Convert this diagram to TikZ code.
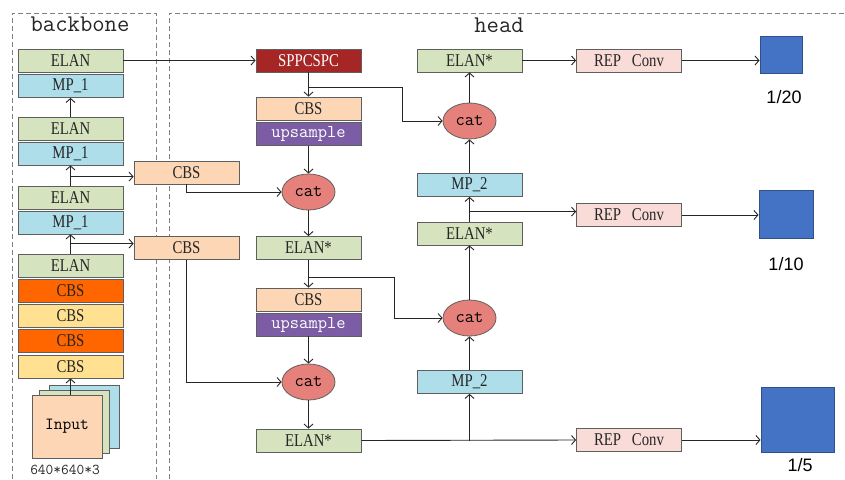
\documentclass[tikz,border=0pt]{standalone}
\usepackage{fontspec}
\usepackage{tikz}
\usetikzlibrary{shapes.geometric, arrows.meta}
\newfontfamily\boxfont[FakeStretch=0.82]{Liberation Serif}
\newfontfamily\zahlfont{Liberation Sans}
\definecolor{elangreen}{RGB}{214,227,191}
\definecolor{mpblue}{RGB}{173,222,234}
\definecolor{cbspeach}{RGB}{252,214,181}
\definecolor{cbsorange}{RGB}{255,102,0}
\definecolor{cbsyellow}{RGB}{255,225,145}
\definecolor{sppred}{RGB}{166,38,38}
\definecolor{upspurple}{RGB}{124,92,164}
\definecolor{catred}{RGB}{230,128,122}
\definecolor{reppink}{RGB}{249,219,216}
\definecolor{outblue}{RGB}{68,114,196}
\definecolor{rand}{RGB}{95,95,95}
\tikzset{
  blk/.style={draw=rand, line width=0.8pt, minimum width=105pt, minimum height=23pt, inner sep=0pt,
    text=black!85, font=\boxfont\fontsize{18}{18}\selectfont},
  elan/.style={blk, fill=elangreen},
  mp/.style={blk, fill=mpblue},
  cbs/.style={blk, fill=cbspeach},
  cbsor/.style={blk, fill=cbsorange},
  cbsye/.style={blk, fill=cbsyellow},
  spp/.style={blk, fill=sppred, text=white},
  ups/.style={blk, fill=upspurple, text=white, font=\ttfamily\fontsize{18}{18}\selectfont},
  rep/.style={blk, fill=reppink},
  catnode/.style={ellipse, draw=rand, line width=0.8pt, fill=catred, minimum width=53pt, minimum height=36pt,
    inner sep=0pt, font=\ttfamily\fontsize{18}{18}\selectfont},
  inbox/.style={draw=rand, line width=0.8pt, minimum width=70pt, minimum height=63pt, inner sep=0pt},
  ausgang/.style={draw=outblue!70!black, fill=outblue, inner sep=0pt},
  zahl/.style={font=\zahlfont\fontsize{18}{18}\selectfont},
  rahmen/.style={draw=gray, line width=0.8pt, dash pattern=on 5pt off 3pt},
  titel/.style={font=\ttfamily\fontsize{24}{24}\selectfont, text=black!85}
}
\begin{document}
\begin{tikzpicture}[x=1pt, y=-1pt, >={Straight Barb[length=4pt,width=9pt]}, line width=0.9pt, draw=black!85]
	\useasboundingbox (0,0) rectangle (845,479);
	% Rahmen zeichnen
	\draw[rahmen] (12,479) -- (12,13) -- (156,13) -- (156,479);
	\draw[rahmen] (169,479) -- (169,13) -- (845,13);
	\node[titel] (tback) at (80,24) {backbone};
	\node[titel] (thead) at (499,25) {head};
	% Backbone
	\foreach \name/\y/\sty/\txt in {be3/60.5/elan/ELAN, bm3/86/mp/MP\_1, be2/128.5/elan/ELAN, bm2/153.5/mp/MP\_1,
		be1/197.5/elan/ELAN, bm1/222.5/mp/MP\_1, be0/265.5/elan/ELAN, bc4/290.5/cbsor/CBS,
		bc3/315.5/cbsye/CBS, bc2/341/cbsor/CBS, bc1/366.5/cbsye/CBS}
		\node[\sty] (\name) at (70.5,\y) {\txt};
	% Eingang
	\node[inbox, fill=mpblue] (inb) at (84,416.5) {};
	\node[inbox, fill=elangreen] (ing) at (74,421.5) {};
	\node[inbox, fill=cbspeach, font=\ttfamily\fontsize{17}{17}\selectfont] (input) at (67,426.5) {Input};
	\node[font=\ttfamily\fontsize{15}{15}\selectfont, text=black!85] (dim) at (65,470) {640*640*3};
	% Seitliche CBS
	\node[cbs] (sc1) at (186.5,172.5) {CBS};
	\node[cbs] (sc2) at (186.5,248) {CBS};
	% Head, linke Spalte
	\node[spp] (spp) at (308.5,60.5) {SPPCSPC};
	\node[cbs] (hc1) at (308.5,108.5) {CBS};
	\node[ups] (hu1) at (308.5,134) {upsample};
	\node[catnode] (cat1) at (308.5,192) {cat};
	\node[elan] (he1) at (308.5,248) {ELAN*};
	\node[cbs] (hc2) at (308.5,299.5) {CBS};
	\node[ups] (hu2) at (308.5,324.5) {upsample};
	\node[catnode] (cat3) at (308.5,382) {cat};
	\node[elan] (he3) at (308.5,440.5) {ELAN*};
	% Head, rechte Spalte
	\node[elan] (he4) at (469.5,60.5) {ELAN*};
	\node[catnode] (cat2) at (469.5,121) {cat};
	\node[mp] (hm2a) at (469.5,185) {MP\_2};
	\node[elan] (he2) at (469.5,233.5) {ELAN*};
	\node[catnode] (cat4) at (469.5,318) {cat};
	\node[mp] (hm2b) at (469.5,382) {MP\_2};
	% REP Conv und Ausgaenge
	\node[rep] (rep1) at (629,60.5) {REP\hspace{0.6em}Conv};
	\node[rep] (rep2) at (629,215) {REP\hspace{0.6em}Conv};
	\node[rep] (rep3) at (629,440) {REP\hspace{0.6em}Conv};
	\node[ausgang, minimum width=42pt, minimum height=37pt] (sq1) at (781,54.5) {};
	\node[ausgang, minimum width=54pt, minimum height=48pt] (sq2) at (786,214) {};
	\node[ausgang, minimum width=73pt, minimum height=65pt] (sq3) at (797.5,419.5) {};
	\node[zahl] (l1) at (784,97) {1/20};
	\node[zahl] (l2) at (786,264) {1/10};
	\node[zahl] (l3) at (800,465) {1/5};
	% Verbindungen Backbone
	\draw[->] (bc1.south |- input.north) -- (bc1.south);
	\draw[->] (be2.north) -- (bm3.south);
	\draw[->] (be1.north) -- ++(0,-9) coordinate (ab1) -- (bm2.south);
	\draw[->] (ab1) -- (ab1 -| sc1.west);
	\draw[->] (be0.north) -- ++(0,-10) coordinate (ab2) -- (bm1.south);
	\draw[->] (ab2) -- (ab2 -| sc2.west);
	\draw[->] (be3.east) -- (spp.west);
	% Verbindungen Head
	\coordinate (kn1) at (402,87);
	\coordinate (kn2) at (394,277.5);
	\draw[->] (spp.south) -- (hc1.north);
	\draw[->] (spp.south |- kn1) -- (kn1) |- (cat2.west);
	\draw[->] (hu1.south) -- (cat1.north);
	\draw[->] (sc1.south) |- (cat1.west);
	\draw[->] (cat1.south) -- (he1.north);
	\draw[->] (he1.south) -- (hc2.north);
	\draw[->] (he1.south |- kn2) -- (kn2) |- (cat4.west);
	\draw[->] (hu2.south) -- (cat3.north);
	\draw[->] (sc2.south) |- (cat3.west);
	\draw[->] (cat3.south) -- (he3.north);
	\draw[->] (he3.east) -- (rep3.west);
	\draw[->] (he3.east -| hm2b.south) -- (hm2b.south);
	\draw[->] (hm2b.north) -- (cat4.south);
	\draw[->] (cat4.north) -- (he2.south);
	\draw[->] (he2.north) -- ++(0,-10) coordinate (ah4) -- (hm2a.south);
	\draw[->] (ah4) -- (ah4 -| rep2.west);
	\draw[->] (hm2a.north) -- (cat2.south);
	\draw[->] (cat2.north) -- (he4.south);
	\draw[->] (he4.east) -- (rep1.west);
	% Ausgaenge
	\draw[->] (rep1.east) -- (rep1.east -| sq1.west);
	\draw[->] (rep2.east) -- (rep2.east -| sq2.west);
	\draw[->] (rep3.east) -- (rep3.east -| sq3.west);
\end{tikzpicture}
\end{document}
